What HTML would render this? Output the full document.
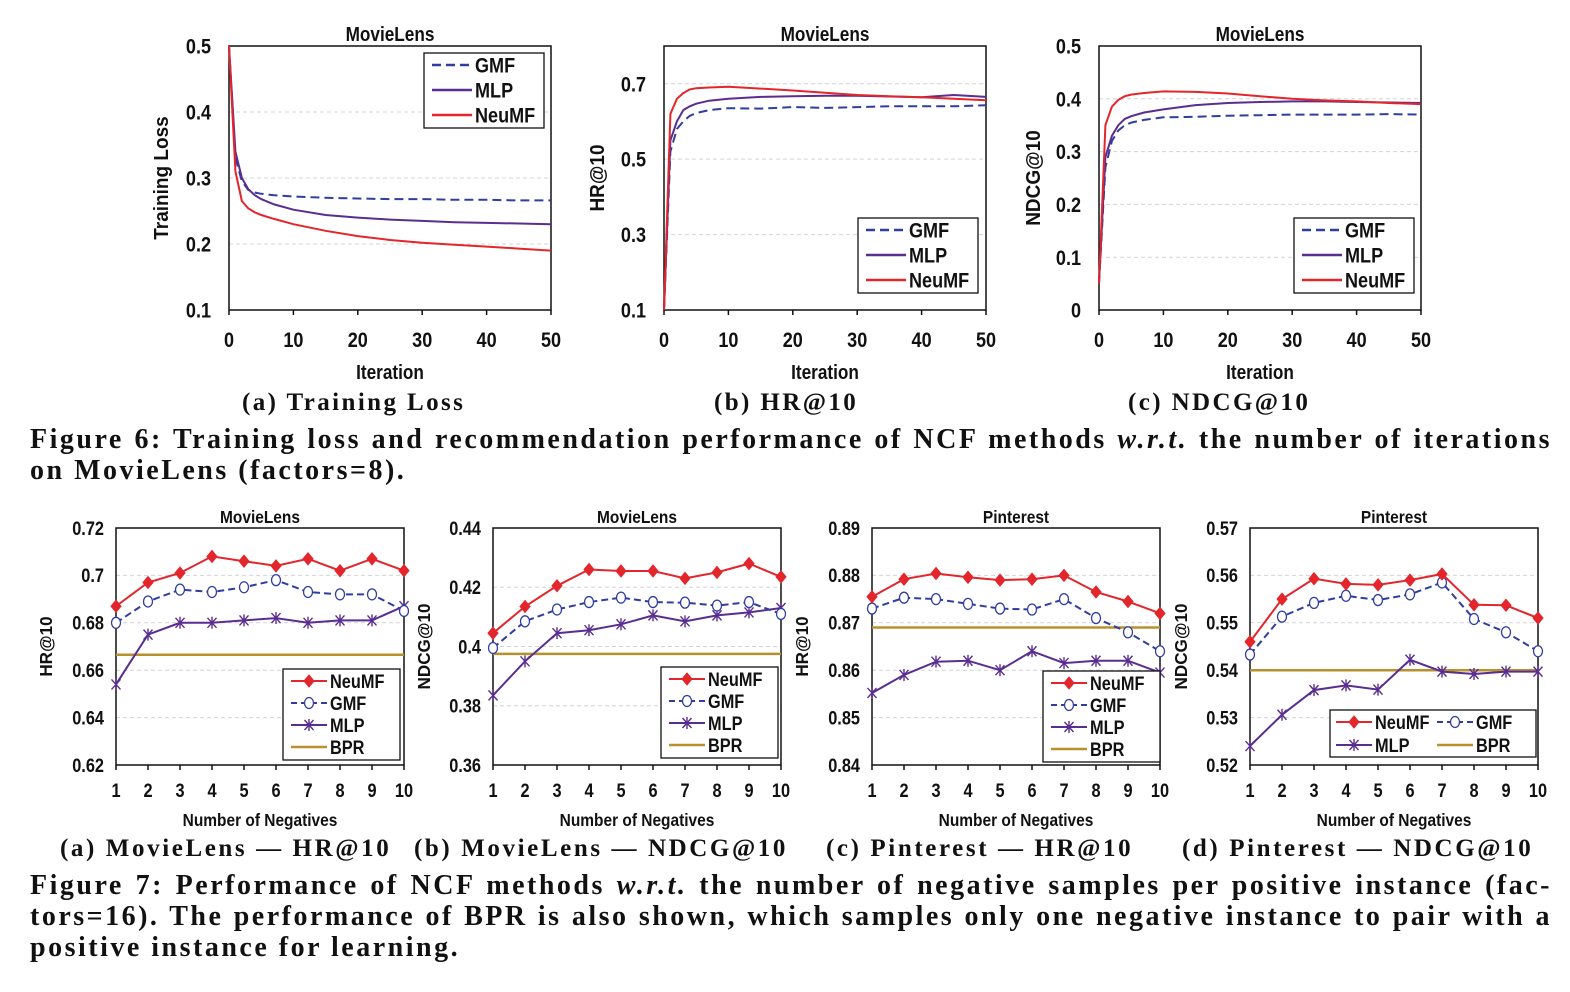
<!DOCTYPE html>
<html><head><meta charset="utf-8">
<style>
html,body{margin:0;padding:0;background:#fff;}
#fig{position:absolute;left:0;top:0;width:1570px;height:992px;}
.cap{position:absolute;font-family:"Liberation Serif",serif;font-weight:bold;font-size:25px;color:#111;white-space:nowrap;letter-spacing:2.4px;}
.ln{position:absolute;left:30px;width:1522px;font-family:"Liberation Serif",serif;font-weight:bold;font-size:28px;color:#111;white-space:nowrap;letter-spacing:2.5px;text-align:justify;text-align-last:justify;line-height:31px;}
.ln.last{text-align-last:left;}
</style></head>
<body>
<svg id="fig" width="1570" height="992"></svg>
<div class="cap" style="left:242px;top:389px;">(a) Training Loss</div>
<div class="cap" style="left:714px;top:389px;">(b) HR@10</div>
<div class="cap" style="left:1128px;top:389px;">(c) NDCG@10</div>
<div>
<div class="ln" style="top:424px;">Figure 6: Training loss and recommendation performance of NCF methods <i>w.r.t.</i> the number of iterations</div>
<div class="ln last" style="top:455px;">on MovieLens (factors=8).</div>
</div>
<div class="cap" style="left:60px;top:835px;letter-spacing:2.6px;">(a) MovieLens — HR@10</div>
<div class="cap" style="left:414px;top:835px;letter-spacing:2.6px;">(b) MovieLens — NDCG@10</div>
<div class="cap" style="left:826px;top:835px;letter-spacing:2.6px;">(c) Pinterest — HR@10</div>
<div class="cap" style="left:1182px;top:835px;letter-spacing:2.6px;">(d) Pinterest — NDCG@10</div>
<div>
<div class="ln" style="top:870px;">Figure 7: Performance of NCF methods <i>w.r.t.</i> the number of negative samples per positive instance (fac-</div>
<div class="ln" style="top:901px;">tors=16). The performance of BPR is also shown, which samples only one negative instance to pair with a</div>
<div class="ln last" style="top:932px;">positive instance for learning.</div>
</div>
<script>
// ---- Figure 6 data ----
const iterX = [0,1,2,3,4,5,7,10,15,20,25,30,35,40,45,50];
const lossGMF = [0.5,0.33,0.295,0.282,0.278,0.276,0.274,0.272,0.270,0.269,0.268,0.268,0.267,0.267,0.266,0.266];
const lossMLP = [0.5,0.34,0.30,0.283,0.274,0.268,0.260,0.252,0.244,0.240,0.237,0.235,0.233,0.232,0.231,0.230];
const lossNeuMF = [0.5,0.31,0.265,0.254,0.248,0.244,0.238,0.230,0.220,0.212,0.206,0.202,0.199,0.196,0.193,0.190];
const hrGMF = [0.1,0.52,0.58,0.60,0.615,0.622,0.630,0.635,0.634,0.638,0.636,0.638,0.640,0.640,0.640,0.643];
const hrMLP = [0.1,0.55,0.60,0.63,0.64,0.647,0.655,0.660,0.665,0.667,0.668,0.668,0.666,0.664,0.670,0.665];
const hrNeuMF = [0.1,0.62,0.66,0.675,0.685,0.688,0.690,0.692,0.687,0.682,0.676,0.670,0.667,0.664,0.660,0.656];
const ndGMF = [0.05,0.27,0.32,0.340,0.350,0.355,0.360,0.365,0.366,0.368,0.369,0.370,0.370,0.370,0.371,0.370];
const ndMLP = [0.05,0.29,0.33,0.350,0.362,0.367,0.374,0.380,0.388,0.392,0.394,0.395,0.395,0.394,0.393,0.392];
const ndNeuMF = [0.05,0.35,0.385,0.398,0.405,0.408,0.411,0.414,0.413,0.410,0.405,0.400,0.397,0.395,0.392,0.390];
const iterTicks = [0,10,20,30,40,50];
const lossTicks = [0.1,0.2,0.3,0.4,0.5];
const hrTicks = [0.1,0.3,0.5,0.7];
const ndTicks = [0,0.1,0.2,0.3,0.4,0.5];
// ---- Figure 7 data ----
const negX = [1,2,3,4,5,6,7,8,9,10];
const mlHrNeuMF = [0.687,0.697,0.701,0.708,0.706,0.704,0.707,0.702,0.707,0.702];
const mlHrGMF = [0.680,0.689,0.694,0.693,0.695,0.698,0.693,0.692,0.692,0.685];
const mlHrMLP = [0.654,0.675,0.680,0.680,0.681,0.682,0.680,0.681,0.681,0.687];
const mlHrBPR = 0.6665;
const mlNdNeuMF = [0.4045,0.4135,0.4205,0.426,0.4255,0.4255,0.423,0.425,0.428,0.4235];
const mlNdGMF = [0.3995,0.4085,0.4125,0.415,0.4165,0.415,0.4148,0.4138,0.415,0.411];
const mlNdMLP = [0.3835,0.395,0.4045,0.4055,0.4075,0.4105,0.4085,0.4105,0.4115,0.413];
const mlNdBPR = 0.3975;
const piHrNeuMF = [0.8755,0.8792,0.8804,0.8796,0.879,0.8792,0.880,0.8765,0.8745,0.872];
const piHrGMF = [0.873,0.8753,0.875,0.874,0.873,0.8728,0.875,0.871,0.868,0.864];
const piHrMLP = [0.8552,0.859,0.8618,0.862,0.860,0.864,0.8615,0.862,0.862,0.8595];
const piHrBPR = 0.869;
const piNdNeuMF = [0.546,0.555,0.5593,0.5582,0.558,0.559,0.5603,0.5538,0.5537,0.551];
const piNdGMF = [0.5433,0.5513,0.5542,0.5557,0.5548,0.556,0.5585,0.5508,0.548,0.544];
const piNdMLP = [0.524,0.5306,0.5358,0.5368,0.5359,0.5422,0.5397,0.5392,0.5397,0.5397];
const piNdBPR = 0.540;
const mlHrTicks = [0.62,0.64,0.66,0.68,0.70,0.72];
const mlNdTicks = [0.36,0.38,0.40,0.42,0.44];
const piHrTicks = [0.84,0.85,0.86,0.87,0.88,0.89];
const piNdTicks = [0.52,0.53,0.54,0.55,0.56,0.57];

const RED='#e3262b', BLUE='#2f3ea0', PUR='#5a2d90', GOLD='#b8912f';
const svg=document.getElementById('fig');
const NS='http://www.w3.org/2000/svg';
function mk(tag,attrs,parent){const e=document.createElementNS(NS,tag);for(const k in attrs)e.setAttribute(k,attrs[k]);(parent||svg).appendChild(e);return e;}
function txt(s,x,y,size,anchor,parent,rot,sc){
  const s2=sc||0.86;
  const tf='translate('+x+' '+y+')'+(rot?' rotate(-90)':'')+' scale('+s2+' 1)';
  const t=mk('text',{x:0,y:0,transform:tf,'font-family':'"Liberation Sans",sans-serif','font-weight':'bold','font-size':size,'text-anchor':anchor||'middle',fill:'#111'},parent);
  t.textContent=s;return t;}
function fmt(v){return String(+v.toFixed(3));}

function chart(o){
  const g=mk('g',{});
  
  
  const sx=v=>o.x0+(v-o.xmin)/(o.xmax-o.xmin)*(o.x1-o.x0);
  const sy=v=>o.y1-(v-o.ymin)/(o.ymax-o.ymin)*(o.y1-o.y0);
  o.yticks.forEach(t=>{
    if(t>o.ymin&&t<o.ymax){const l=mk('line',{x1:o.x0,x2:o.x1,y1:sy(t),y2:sy(t),stroke:'#d4d4d4','stroke-dasharray':'4,3','stroke-width':1},g);
      }
    const tl=txt(fmt(t),o.x0-o.ylabOff,sy(t)+o.fs*0.36,o.fs,'end',g);
    
  });
  o.xticks.forEach(t=>{
    mk('line',{x1:sx(t),x2:sx(t),y1:o.y1,y2:o.y1+5,stroke:'#111','stroke-width':1.5},g);
    const tl=txt(String(t),sx(t),o.y1+o.xlabOff,o.fs,'middle',g);
    
  });
  const fr=mk('rect',{x:o.x0,y:o.y0,width:o.x1-o.x0,height:o.y1-o.y0,fill:'none',stroke:'#111','stroke-width':1.5},g);
  
  const ti=txt(o.title,(o.x0+o.x1)/2,o.y0-5,o.tfs,'middle',g);
  
  const xt=txt(o.xtitle,(o.x0+o.x1)/2,o.xtY,o.tfs,'middle',g);
  
  const yc=(o.y0+o.y1)/2;
  const yt=txt(o.ytitle,o.ytX,yc,o.tfs,'middle',g,true,0.95);
  
  if(o.bpr!==undefined){
    const b=mk('line',{x1:o.x0,x2:o.x1,y1:sy(o.bpr),y2:sy(o.bpr),stroke:GOLD,'stroke-width':2.5},g);
    
  }
  o.series.forEach(s=>{
    const pts=o.xs.map((x,i)=>sx(x).toFixed(1)+','+sy(s.v[i]).toFixed(1)).join(' ');
    const pl=mk('polyline',{points:pts,fill:'none',stroke:s.c,'stroke-width':2,'stroke-dasharray':s.dash||'none'},g);
    
    if(s.m) o.xs.forEach((x,i)=>{const m=marker(s.m,sx(x),sy(s.v[i]),g);});
  });
  const L=o.legend;
  const lg=mk('g',{},g);
  
  mk('rect',{x:L.x,y:L.y,width:L.w,height:L.h,fill:'#fff',stroke:'#111','stroke-width':1.3},lg);
  L.items.forEach(it=>{
    const e=mk('g',{},lg);
    
    mk('line',{x1:it.x,x2:it.x+L.sw,y1:it.y,y2:it.y,stroke:it.c,'stroke-width':it.m?2:2.5,'stroke-dasharray':it.dash||'none'},e);
    if(it.m) marker(it.m,it.x+L.sw/2,it.y,e);
    txt(it.n,it.x+L.sw+3,it.y+o.lfs*0.36,o.lfs,'start',e);
  });
}
function marker(type,x,y,p){
  const g=mk('g',{},p);
  if(type==='d') mk('polygon',{points:`${x},${y-6} ${x+5},${y} ${x},${y+6} ${x-5},${y}`,fill:RED,stroke:RED},g);
  else if(type==='o') mk('ellipse',{cx:x,cy:y,rx:4.5,ry:5.5,fill:'#fff',stroke:BLUE,'stroke-width':1.3},g);
  else if(type==='x'){mk('path',{d:`M${x-4.5},${y-5}L${x+4.5},${y+5}M${x+4.5},${y-5}L${x-4.5},${y+5}M${x},${y-6}L${x},${y+6}`,stroke:PUR,'stroke-width':1.4,fill:'none'},g);}
  return g;
}

// Figure 6
const topCommon={xs:iterX,xmin:0,xmax:50,y0:46,y1:310,xticks:iterTicks,fs:21,tfs:20,lfs:21,ylabOff:18,xlabOff:37,xtitle:'Iteration',xtY:379,title:'MovieLens'};
function lineSeries(a,b,c){return [{n:'GMF',v:a,c:BLUE,dash:'9,5'},{n:'MLP',v:b,c:PUR},{n:'NeuMF',v:c,c:RED}];}
function lineLegend(x,y){return {x:x,y:y,w:120,h:75,sw:40,items:[{n:'GMF',x:x+8,y:y+12,c:BLUE,dash:'9,5'},{n:'MLP',x:x+8,y:y+37,c:PUR},{n:'NeuMF',x:x+8,y:y+62,c:RED}]};}
chart(Object.assign({},topCommon,{name:'chart-training-loss',x0:229,x1:551,ymin:0.1,ymax:0.5,yticks:lossTicks,ytitle:'Training Loss',ytX:168,series:lineSeries(lossGMF,lossMLP,lossNeuMF),legend:lineLegend(424,53)}));
chart(Object.assign({},topCommon,{name:'chart-hr-iter',x0:664,x1:986,ymin:0.1,ymax:0.8,yticks:hrTicks,ytitle:'HR@10',ytX:604,series:lineSeries(hrGMF,hrMLP,hrNeuMF),legend:lineLegend(858,218)}));
chart(Object.assign({},topCommon,{name:'chart-ndcg-iter',x0:1099,x1:1421,ymin:0,ymax:0.5,yticks:ndTicks,ytitle:'NDCG@10',ytX:1040,series:lineSeries(ndGMF,ndMLP,ndNeuMF),legend:lineLegend(1294,218)}));

// Figure 7
const botCommon={xs:negX,xmin:1,xmax:10,y0:528,y1:765,xticks:negX,fs:19,tfs:18,lfs:19,ylabOff:12,xlabOff:32,xtitle:'Number of Negatives',xtY:826,title:''};
function markSeries(a,b,c){return [{n:'MLP',v:c,c:PUR,m:'x'},{n:'GMF',v:b,c:BLUE,dash:'7,4',m:'o'},{n:'NeuMF',v:a,c:RED,m:'d'}];}
function markLegend(x,y){return {x:x,y:y,w:117,h:91,sw:36,items:[{n:'NeuMF',x:x+8,y:y+12,c:RED,m:'d'},{n:'GMF',x:x+8,y:y+34,c:BLUE,dash:'6,4',m:'o'},{n:'MLP',x:x+8,y:y+56,c:PUR,m:'x'},{n:'BPR',x:x+8,y:y+78,c:GOLD}]};}
chart(Object.assign({},botCommon,{name:'chart-ml-hr-neg',x0:116,x1:404,title:'MovieLens',ymin:0.62,ymax:0.72,yticks:mlHrTicks,ytitle:'HR@10',ytX:52,bpr:mlHrBPR,series:markSeries(mlHrNeuMF,mlHrGMF,mlHrMLP),legend:markLegend(283,669)}));
chart(Object.assign({},botCommon,{name:'chart-ml-ndcg-neg',x0:493,x1:781,title:'MovieLens',ymin:0.36,ymax:0.44,yticks:mlNdTicks,ytitle:'NDCG@10',ytX:430,bpr:mlNdBPR,series:markSeries(mlNdNeuMF,mlNdGMF,mlNdMLP),legend:markLegend(661,667)}));
chart(Object.assign({},botCommon,{name:'chart-pi-hr-neg',x0:872,x1:1160,title:'Pinterest',ymin:0.84,ymax:0.89,yticks:piHrTicks,ytitle:'HR@10',ytX:808,bpr:piHrBPR,series:markSeries(piHrNeuMF,piHrGMF,piHrMLP),legend:markLegend(1043,671)}));
chart(Object.assign({},botCommon,{name:'chart-pi-ndcg-neg',x0:1250,x1:1538,title:'Pinterest',ymin:0.52,ymax:0.57,yticks:piNdTicks,ytitle:'NDCG@10',ytX:1187,bpr:piNdBPR,series:markSeries(piNdNeuMF,piNdGMF,piNdMLP),
  legend:{x:1330,y:710,w:206,h:47,sw:36,items:[{n:'NeuMF',x:1336,y:722,c:RED,m:'d'},{n:'GMF',x:1437,y:722,c:BLUE,dash:'6,4',m:'o'},{n:'MLP',x:1336,y:745,c:PUR,m:'x'},{n:'BPR',x:1437,y:745,c:GOLD}]}}));
</script>
</body></html>
